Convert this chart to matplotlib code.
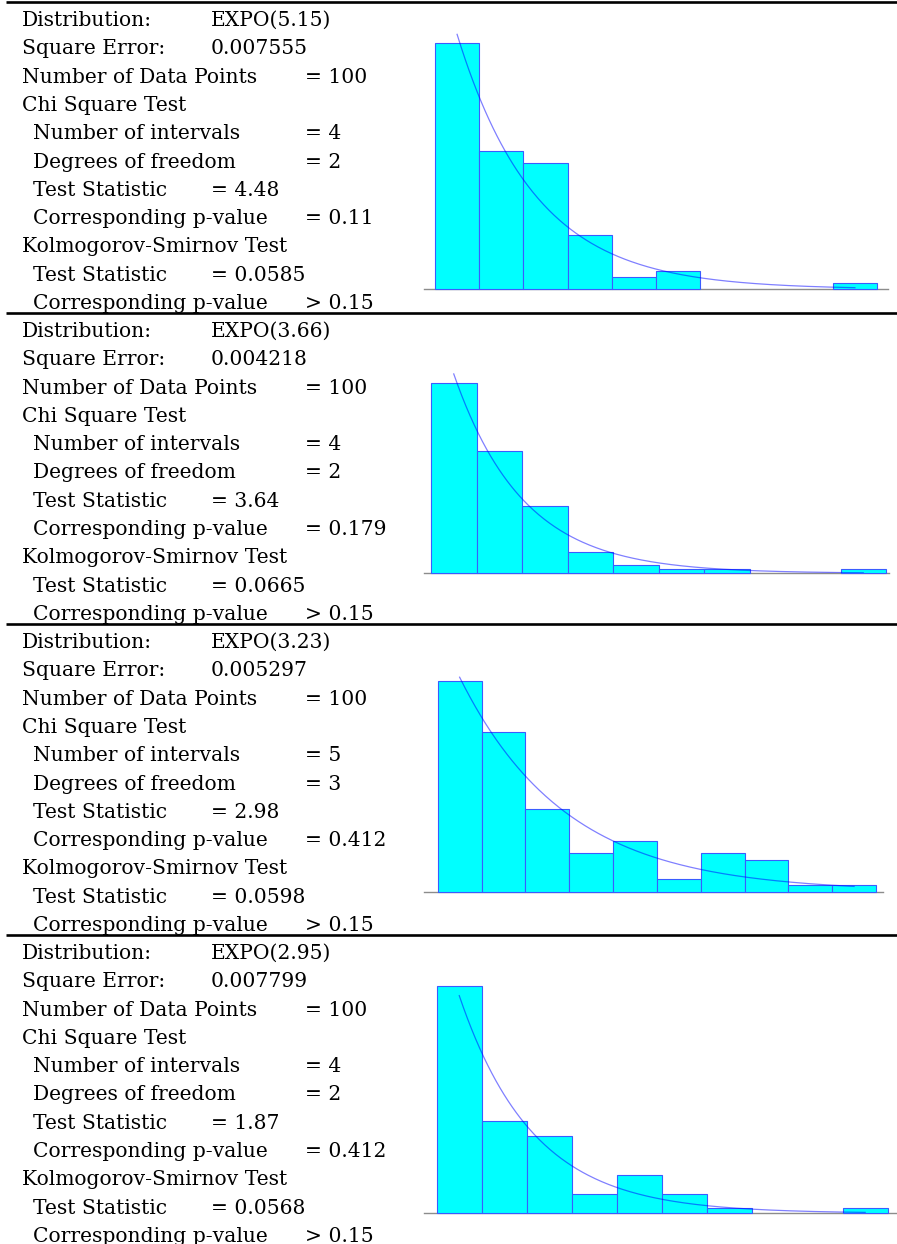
import numpy as np
import matplotlib
matplotlib.use("Agg")
import matplotlib.pyplot as plt

plt.rcParams['font.family'] = ['DejaVu Serif']

# ---- data (one entry per fitted panel) ----
dist_labels = ["EXPO(5.15)", "EXPO(3.66)", "EXPO(3.23)", "EXPO(2.95)"]
exp_means = [5.15, 3.66, 3.23, 2.95]
square_errors = ["0.007555", "0.004218", "0.005297", "0.007799"]
n_points = [100, 100, 100, 100]
chi_intervals = [4, 4, 5, 4]
chi_dof = [2, 2, 3, 2]
chi_stat = ["4.48", "3.64", "2.98", "1.87"]
chi_pvalue = ["0.11", "0.179", "0.412", "0.412"]
ks_stat = ["0.0585", "0.0665", "0.0598", "0.0568"]
ks_pvalue = ["> 0.15", "> 0.15", "> 0.15", "> 0.15"]

# histogram counts (10 cells each, 100 observations)
counts_1 = [41, 23, 21, 9, 2, 3, 0, 0, 0, 1]
counts_2 = [45, 29, 16, 5, 2, 1, 1, 0, 0, 1]
counts_3 = [33, 25, 13, 6, 8, 2, 6, 5, 1, 1]
counts_4 = [47, 19, 16, 4, 8, 4, 1, 0, 0, 1]
hist_counts = [counts_1, counts_2, counts_3, counts_4]
hist_max = [29.0, 24.0, 13.3, 18.0]   # histogram range upper bound (lower = 0)

# ---- layout in pixels ----
W, H = 897, 1244
sep_y = [1.5, 312.5, 623.5, 934.5]
line_step = 28.3
first_baseline = 24.5
x_label, x_indent, x_col_a, x_col_b = 22, 33, 211, 305

# histogram frame per panel: axis line left/right, bar span left/right, baseline, px per unit proportion
axis_lr = [(424, 888), (424, 889), (424, 883), (424, 897)]
bars_lr = [(435, 877), (431, 886), (437.7, 876), (436.7, 887.7)]
baseline_y = [289.3, 573.3, 891.7, 1213.3]
px_per_unit = [600, 422, 640, 484]

fig = plt.figure(figsize=(W / 100, H / 100), dpi=100)
bg = fig.add_axes([0, 0, 1, 1])
bg.set_xlim(0, W)
bg.set_ylim(H, 0)
bg.axis('off')

fs = 14.6
for i in range(4):
    y0 = sep_y[i]
    bg.plot([6, W], [y0, y0], color='black', linewidth=1.9, solid_capstyle='butt')

    rows = [
        (x_label, "Distribution:", x_col_a, dist_labels[i]),
        (x_label, "Square Error:", x_col_a, square_errors[i]),
        (x_label, "Number of Data Points", x_col_b, f"= {n_points[i]}"),
        (x_label, "Chi Square Test", None, None),
        (x_indent, "Number of intervals", x_col_b, f"= {chi_intervals[i]}"),
        (x_indent, "Degrees of freedom", x_col_b, f"= {chi_dof[i]}"),
        (x_indent, "Test Statistic", x_col_a, f"= {chi_stat[i]}"),
        (x_indent, "Corresponding p-value", x_col_b, f"= {chi_pvalue[i]}"),
        (x_label, "Kolmogorov-Smirnov Test", None, None),
        (x_indent, "Test Statistic", x_col_a, f"= {ks_stat[i]}"),
        (x_indent, "Corresponding p-value", x_col_b, ks_pvalue[i]),
    ]
    for k, (xl, label, xv, value) in enumerate(rows):
        yb = y0 + first_baseline + k * line_step
        bg.text(xl, yb, label, fontsize=fs, va='baseline', ha='left', color='black')
        if value is not None:
            bg.text(xv, yb, value, fontsize=fs, va='baseline', ha='left', color='black')

    # histogram
    counts = np.array(hist_counts[i], dtype=float)
    props = counts / counts.sum()
    nb = len(counts)
    hi = hist_max[i]
    w = hi / nb
    edges = np.linspace(0, hi, nb + 1)

    ax_l, ax_r = axis_lr[i]
    b_l, b_r = bars_lr[i]
    s = (b_r - b_l) / hi
    xlim = (-(b_l - ax_l) / s, hi + (ax_r - b_r) / s)
    top_px = 280
    ax = fig.add_axes([ax_l / W, 1 - baseline_y[i] / H, (ax_r - ax_l) / W, top_px / H])
    ax.set_xlim(*xlim)
    ax.set_ylim(0, top_px / px_per_unit[i])
    ax.axis('off')

    ax.axhline(0, color='#8c8c8c', linewidth=1.0, clip_on=False, zorder=1)
    keep = props > 0
    ax.bar(edges[:-1][keep], props[keep], width=w, align='edge',
           color='#00ffff', edgecolor='#3a5cff', linewidth=0.8,
           clip_on=False, zorder=2)

    beta = exp_means[i]
    xc = np.linspace(w / 2, hi - w / 2, 300)
    yc = w / beta * np.exp(-xc / beta)
    ax.plot(xc, yc, color='#0000ff', alpha=0.5, linewidth=0.9, zorder=3)

fig.savefig("out.png", dpi=100, facecolor='white')
